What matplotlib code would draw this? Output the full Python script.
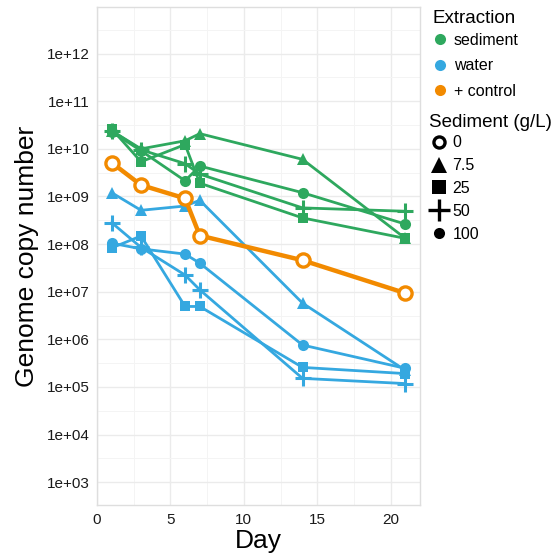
import numpy as np
import matplotlib
matplotlib.use("Agg")
import matplotlib.pyplot as plt
from matplotlib.lines import Line2D
from matplotlib.ticker import FixedLocator, FuncFormatter

plt.rcParams['font.family'] = ['Liberation Sans', 'DejaVu Sans']

days = [1, 3, 6, 7, 14, 21]

# log10 genome copy numbers
sed_tri    = [10.38, 10.00, 10.17, 10.32, 9.78, 8.12]
sed_square = [10.42, 9.73, 10.09, 9.28, 8.55, 8.12]
sed_plus   = [10.38, 9.98, 9.69, 9.47, 8.76, 8.69]
sed_circle = [10.36, 9.96, 9.33, 9.64, 9.08, 8.42]

wat_tri    = [9.08, 8.71, 8.80, 8.92, 6.76, 5.35]
wat_square = [7.92, 8.17, 6.69, 6.69, 5.41, 5.28]
wat_plus   = [8.45, 7.93, 7.35, 7.04, 5.18, 5.07]
wat_circle = [8.02, 7.90, 7.79, 7.60, 5.88, 5.39]

control_0  = [9.71, 9.24, 8.96, 8.18, 7.66, 6.97]

extraction_labels = ["sediment", "water", "+ control"]
sediment_labels = ["0", "7.5", "25", "50", "100"]
ytick_exps = list(range(3, 13))

GREEN = "#2EA85E"
BLUE = "#35A8E0"
ORANGE = "#F28A00"

fig = plt.figure(figsize=(5.53, 5.54), dpi=100)
W, H = 553, 554
L, R, T, B = 97, 420, 7, 505
ax = fig.add_axes([L / W, 1 - B / H, (R - L) / W, (B - T) / H])

ax.set_yscale("log")
ax.set_xlim(0, 22)
ax.set_ylim(10 ** 2.52, 10 ** 12.98)

# grid
ax.set_axisbelow(True)
ax.yaxis.set_major_locator(FixedLocator([10.0 ** e for e in ytick_exps]))
ax.yaxis.set_minor_locator(FixedLocator([10.0 ** (e + 0.5) for e in range(2, 13)]))
ax.xaxis.set_major_locator(FixedLocator([0, 5, 10, 15, 20]))
ax.xaxis.set_minor_locator(FixedLocator([2.5, 7.5, 12.5, 17.5]))
ax.yaxis.set_major_formatter(FuncFormatter(lambda v, p: "1e+%02d" % int(round(np.log10(v)))))
ax.xaxis.set_major_formatter(FuncFormatter(lambda v, p: "%d" % v))
ax.yaxis.set_minor_formatter(FuncFormatter(lambda v, p: ""))
ax.grid(which="major", color="#EBEBEB", linewidth=1.0)
ax.grid(which="minor", color="#F4F4F4", linewidth=0.7)
ax.tick_params(which="both", length=0)
ax.tick_params(axis="y", labelsize=11, pad=5, labelcolor="#1a1a1a")
ax.tick_params(axis="x", labelsize=11, pad=6, labelcolor="#1a1a1a")
for s in ax.spines.values():
    s.set_color("#DEDEDE")
    s.set_linewidth(1.0)

def pw(v):
    return [10 ** x for x in v]

lw = 2.0
series = [
    (sed_tri, GREEN, "^", 8.5, 0),
    (sed_square, GREEN, "s", 7, 0),
    (sed_plus, GREEN, "+", 12, 2.2),
    (sed_circle, GREEN, "o", 8, 0),
    (wat_tri, BLUE, "^", 8.5, 0),
    (wat_square, BLUE, "s", 7, 0),
    (wat_plus, BLUE, "+", 12, 2.2),
    (wat_circle, BLUE, "o", 8, 0),
]
for vals, col, mk, ms, mew in series:
    ax.plot(days, pw(vals), color=col, lw=lw, marker=mk, ms=ms,
            mew=mew if mew else 0, mec=col, mfc=col, zorder=3)

ax.plot(days, pw(control_0), color=ORANGE, lw=3.2, marker="o", ms=9.5,
        mfc="white", mec=ORANGE, mew=2.4, zorder=4)

ax.set_xlabel("Day", fontsize=19, labelpad=1)
ax.set_ylabel("Genome copy number", fontsize=19, labelpad=6)

# legends
ext_handles = [Line2D([], [], ls="", marker="o", ms=8, mfc=c, mec=c, mew=0)
               for c in [GREEN, BLUE, ORANGE]]
leg1 = fig.legend(ext_handles, extraction_labels, title="Extraction",
                  loc="upper left", bbox_to_anchor=(429 / W, 1 - 7 / H),
                  frameon=False, fontsize=11.5, title_fontsize=13.5,
                  handlelength=1.0, handletextpad=0.35, labelspacing=0.65,
                  borderaxespad=0, borderpad=0.2)
leg1._legend_box.align = "left"
leg1._legend_box.sep = 4.0

shape_handles = [
    Line2D([], [], ls="", marker="o", ms=8, mfc="white", mec="black", mew=2.4),
    Line2D([], [], ls="", marker="^", ms=12, mfc="black", mec="black", mew=0),
    Line2D([], [], ls="", marker="s", ms=10, mfc="black", mec="black", mew=0),
    Line2D([], [], ls="", marker="+", ms=16, mfc="black", mec="black", mew=2.4),
    Line2D([], [], ls="", marker="o", ms=8, mfc="black", mec="black", mew=0),
]
leg2 = fig.legend(shape_handles, sediment_labels, title="Sediment (g/L)",
                  loc="upper left", bbox_to_anchor=(426 / W, 1 - 111 / H),
                  frameon=False, fontsize=11.5, title_fontsize=13.5,
                  handlelength=1.2, handletextpad=0.25, labelspacing=0.49,
                  borderaxespad=0, borderpad=0.2)
leg2._legend_box.align = "left"
leg2._legend_box.sep = 3.0

fig.savefig("out.png", dpi=100, facecolor="white")
